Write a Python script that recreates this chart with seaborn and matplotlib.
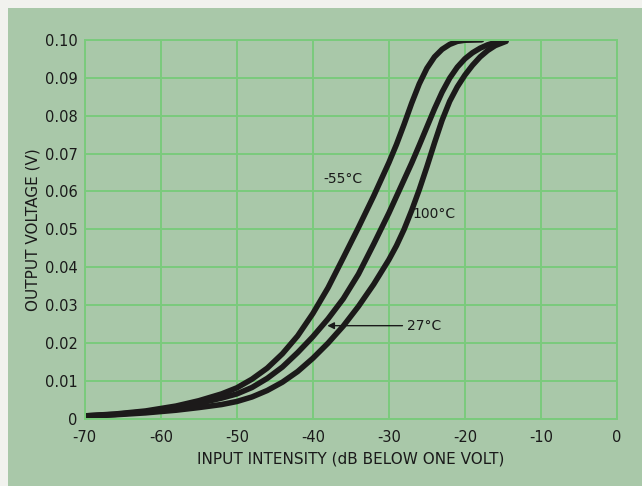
import numpy as np
import pandas as pd
import seaborn as sns
import matplotlib.pyplot as plt
from matplotlib.patches import Rectangle

# curves (input dB, output volts)
x_m55 = [-70, -66, -62, -58, -55, -52, -50, -48, -46, -44, -42, -40, -38, -36, -34,
         -32, -30, -29, -28, -27, -26, -25, -24, -23, -22, -21, -20, -17.8]
y_m55 = [0.0008, 0.0013, 0.0021, 0.0034, 0.0048, 0.0066, 0.0082, 0.0105, 0.0134, 0.0172,
         0.0219, 0.0278, 0.0346, 0.0425, 0.0505, 0.0588, 0.0676, 0.0724, 0.0777, 0.0833,
         0.0884, 0.0925, 0.0955, 0.0975, 0.0988, 0.0996, 0.0999, 0.1000]

x_27 = [-70, -66, -62, -58, -55, -52, -50, -48, -46, -44, -42, -40, -38, -36, -34,
        -32, -30, -28, -27, -26, -25, -24, -23, -22, -21, -20, -19, -18, -17, -16, -14.6]
y_27 = [0.0008, 0.0012, 0.0019, 0.0030, 0.0041, 0.0055, 0.0066, 0.0083, 0.0107, 0.0137,
        0.0175, 0.0217, 0.0264, 0.0317, 0.0382, 0.0461, 0.0543, 0.0631, 0.0675, 0.0722,
        0.0770, 0.0818, 0.0862, 0.0899, 0.0928, 0.0950, 0.0966, 0.0978, 0.0987, 0.0993, 0.0997]

x_100 = [-70, -66, -62, -58, -55, -52, -50, -48, -46, -44, -42, -40, -38, -36, -34,
         -32, -30, -29, -28, -27, -26, -25, -24, -23, -22, -21, -20, -19, -18, -17, -16, -14.6]
y_100 = [0.0007, 0.0011, 0.0016, 0.0023, 0.0030, 0.0038, 0.0046, 0.0058, 0.0075, 0.0097,
         0.0125, 0.0160, 0.0200, 0.0245, 0.0297, 0.0355, 0.0420, 0.0457, 0.0500, 0.0550,
         0.0605, 0.0665, 0.0728, 0.0788, 0.0838, 0.0876, 0.0907, 0.0933, 0.0955, 0.0972,
         0.0985, 0.0996]

x_ticks = [-70, -60, -50, -40, -30, -20, -10, 0]
x_labels = ["-70", "-60", "-50", "-40", "-30", "-20", "-10", "0"]
y_ticks = [0, 0.01, 0.02, 0.03, 0.04, 0.05, 0.06, 0.07, 0.08, 0.09, 0.10]
y_labels = ["0", "0.01", "0.02", "0.03", "0.04", "0.05", "0.06", "0.07", "0.08", "0.09", "0.10"]

paper = "#a9c8a9"
grid_green = "#7acb7c"
ink = "#1a1a1a"

df = pd.concat([
    pd.DataFrame({"db": x_m55, "volts": y_m55, "temp": "-55°C"}),
    pd.DataFrame({"db": x_27, "volts": y_27, "temp": "27°C"}),
    pd.DataFrame({"db": x_100, "volts": y_100, "temp": "100°C"}),
])

sns.set_theme(style="whitegrid")
plt.rcParams["font.family"] = ["DejaVu Sans"]

fig = plt.figure(figsize=(6.42, 4.86), dpi=100)
fig.patch.set_facecolor("#f1f2ee")
fig.patches.append(Rectangle((8 / 642, 0), 1, 1 - 8 / 486, transform=fig.transFigure,
                             facecolor=paper, edgecolor="none", zorder=-10))
ax = fig.add_axes([0.132, 0.138, 0.829, 0.780])
ax.set_facecolor(paper)

sns.lineplot(data=df, x="db", y="volts", units="temp", estimator=None, sort=False,
             color="#1c1a1a", linewidth=4.0, ax=ax, solid_capstyle="round",
             solid_joinstyle="round")

ax.set_xlim(-70, 0)
ax.set_ylim(0, 0.10)
ax.set_xticks(x_ticks)
ax.set_xticklabels(x_labels, fontsize=10.5)
ax.set_yticks(y_ticks)
ax.set_yticklabels(y_labels, fontsize=10.5)
ax.tick_params(length=0, colors=ink)
ax.tick_params(axis="x", pad=8)
ax.tick_params(axis="y", pad=5)
ax.grid(True, color=grid_green, linewidth=1.4)
for s in ax.spines.values():
    s.set_color(grid_green)
    s.set_linewidth(1.4)

ax.set_xlabel("INPUT INTENSITY (dB BELOW ONE VOLT)", fontsize=11, color=ink, labelpad=5)
ax.set_ylabel("OUTPUT VOLTAGE (V)", fontsize=11, color=ink, labelpad=3)

ax.text(-38.6, 0.0632, "-55°C", fontsize=10, ha="left", va="center", color=ink)
ax.text(-26.9, 0.0540, "100°C", fontsize=10, ha="left", va="center", color=ink)
ax.annotate("27°C", xy=(-38.1, 0.0246), xytext=(-27.6, 0.0246), fontsize=10,
            ha="left", va="center", color=ink,
            arrowprops=dict(arrowstyle="-|>", color=ink, lw=1.0,
                            mutation_scale=10, shrinkA=1, shrinkB=0))

plt.savefig("out.png", dpi=100)
